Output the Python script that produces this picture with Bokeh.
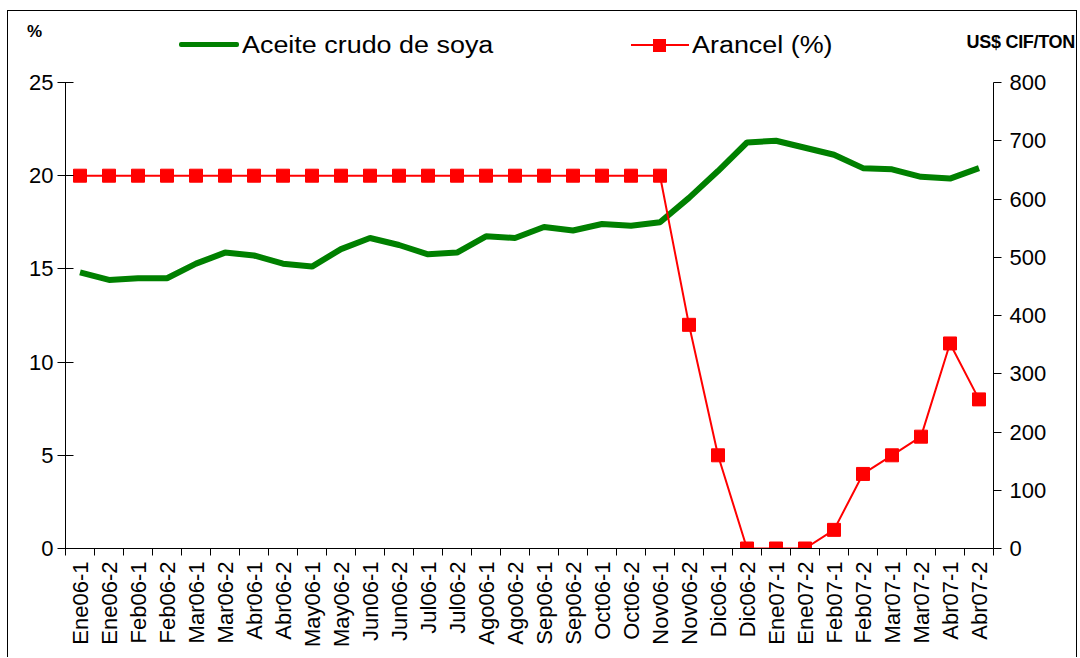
import math
from bokeh.plotting import figure
from bokeh.layouts import column
from bokeh.models import Range1d, LinearAxis, FixedTicker, Div
from bokeh.embed import file_html
from bokeh.resources import INLINE

categories = ["Ene06-1", "Ene06-2", "Feb06-1", "Feb06-2", "Mar06-1", "Mar06-2",
              "Abr06-1", "Abr06-2", "May06-1", "May06-2", "Jun06-1", "Jun06-2",
              "Jul06-1", "Jul06-2", "Ago06-1", "Ago06-2", "Sep06-1", "Sep06-2",
              "Oct06-1", "Oct06-2", "Nov06-1", "Nov06-2", "Dic06-1", "Dic06-2",
              "Ene07-1", "Ene07-2", "Feb07-1", "Feb07-2", "Mar07-1", "Mar07-2",
              "Abr07-1", "Abr07-2"]
aceite_usd = [474, 461, 464, 464, 489, 508, 503, 489, 484, 514, 533, 521,
              505, 508, 536, 533, 552, 546, 557, 554, 560, 602, 648, 697,
              700, 688, 676, 653, 651, 638, 635, 653]
arancel_pct = [20, 20, 20, 20, 20, 20, 20, 20, 20, 20, 20, 20, 20, 20, 20, 20,
               20, 20, 20, 20, 20, 12, 5, 0, 0, 0, 1, 4, 5, 6, 11, 8]
left_ticks = [0, 5, 10, 15, 20, 25]
right_ticks = [0, 100, 200, 300, 400, 500, 600, 700, 800]
series_names = ["Aceite crudo de soya", "Arancel (%)"]
left_unit = "%"
right_unit = "US$ CIF/TON"

xs = list(range(1, len(categories) + 1))
FONT = "Liberation Sans"
GREEN = "#008000"
RED = "#FF0000"
W = 1067

# ---------- header: unit labels and legend ----------
stretch = "display:inline-block;transform:scaleX(1.17);transform-origin:left center;"
header_html = f"""
<div style="position:relative;width:{W}px;height:59px;font-family:'{FONT}',Arial,sans-serif;color:black;">
  <span style="position:absolute;left:19px;top:11px;font-size:17px;font-weight:bold;line-height:20px;">{left_unit}</span>
  <span style="position:absolute;left:171px;top:31px;width:60px;height:5px;background:{GREEN};border-radius:2px;"></span>
  <span style="position:absolute;left:234px;top:20px;font-size:23px;line-height:28px;white-space:nowrap;{stretch}">{series_names[0]}</span>
  <span style="position:absolute;left:623px;top:33px;width:58px;height:2px;background:{RED};"></span>
  <span style="position:absolute;left:645px;top:28px;width:13px;height:13px;background:{RED};"></span>
  <span style="position:absolute;left:684px;top:20px;font-size:23px;line-height:28px;white-space:nowrap;{stretch}">{series_names[1]}</span>
  <span style="position:absolute;right:0px;top:21px;font-size:18px;font-weight:bold;line-height:20px;white-space:nowrap;letter-spacing:-0.3px;">{right_unit}</span>
</div>
"""
h = Div(text=header_html, width=W, height=59, margin=(0, 0, 0, 0))

# ---------- main chart ----------
p = figure(width=W, height=587, x_range=Range1d(0.5, len(categories) + 0.5),
           y_range=Range1d(0, 25), output_backend="svg", toolbar_location=None,
           min_border_left=57, min_border_right=82, min_border_top=12,
           min_border_bottom=109, margin=(0, 0, 0, 0))
p.grid.visible = False
p.outline_line_color = None
p.extra_y_ranges = {"usd": Range1d(0, 800)}

xa = p.xaxis[0]
xa.ticker = FixedTicker(ticks=xs, minor_ticks=[x - 0.5 for x in xs] + [xs[-1] + 0.5])
xa.major_label_overrides = {x: c for x, c in zip(xs, categories)}
xa.major_label_orientation = math.pi / 2
xa.major_tick_in = 0
xa.major_tick_out = 0
xa.minor_tick_in = 0
xa.minor_tick_out = 7
xa.major_label_text_font = FONT
xa.major_label_text_font_size = "22px"
xa.major_label_text_color = "black"
xa.major_label_standoff = 6
xa.axis_line_color = "black"
xa.minor_tick_line_color = "black"

ya = p.yaxis[0]
ya.ticker = FixedTicker(ticks=left_ticks, minor_ticks=[])
ya.major_tick_in = 8
ya.major_tick_out = 8
ya.major_label_text_font = FONT
ya.major_label_text_font_size = "22px"
ya.major_label_text_color = "black"
ya.major_label_standoff = 4
ya.axis_line_color = "black"

ra = LinearAxis(y_range_name="usd")
ra.ticker = FixedTicker(ticks=right_ticks, minor_ticks=[])
ra.major_tick_in = 0
ra.major_tick_out = 8
ra.major_label_text_font = FONT
ra.major_label_text_font_size = "22px"
ra.major_label_text_color = "black"
ra.major_label_standoff = 8
ra.axis_line_color = "black"
p.add_layout(ra, "right")

p.line(xs, aceite_usd, y_range_name="usd", line_color=GREEN, line_width=6)
p.line(xs, arancel_pct, line_color=RED, line_width=2)
p.scatter(xs, arancel_pct, marker="square", size=13, fill_color=RED, line_color=RED)

layout = column(h, p, spacing=0)
layout.styles = {"border-top": "1.5px solid black", "border-left": "1.5px solid black",
                 "border-right": "1.5px solid black", "margin-left": "7px",
                 "margin-top": "10px", "width": "1070px"}

open("out.html", "w").write(file_html(layout, INLINE))
